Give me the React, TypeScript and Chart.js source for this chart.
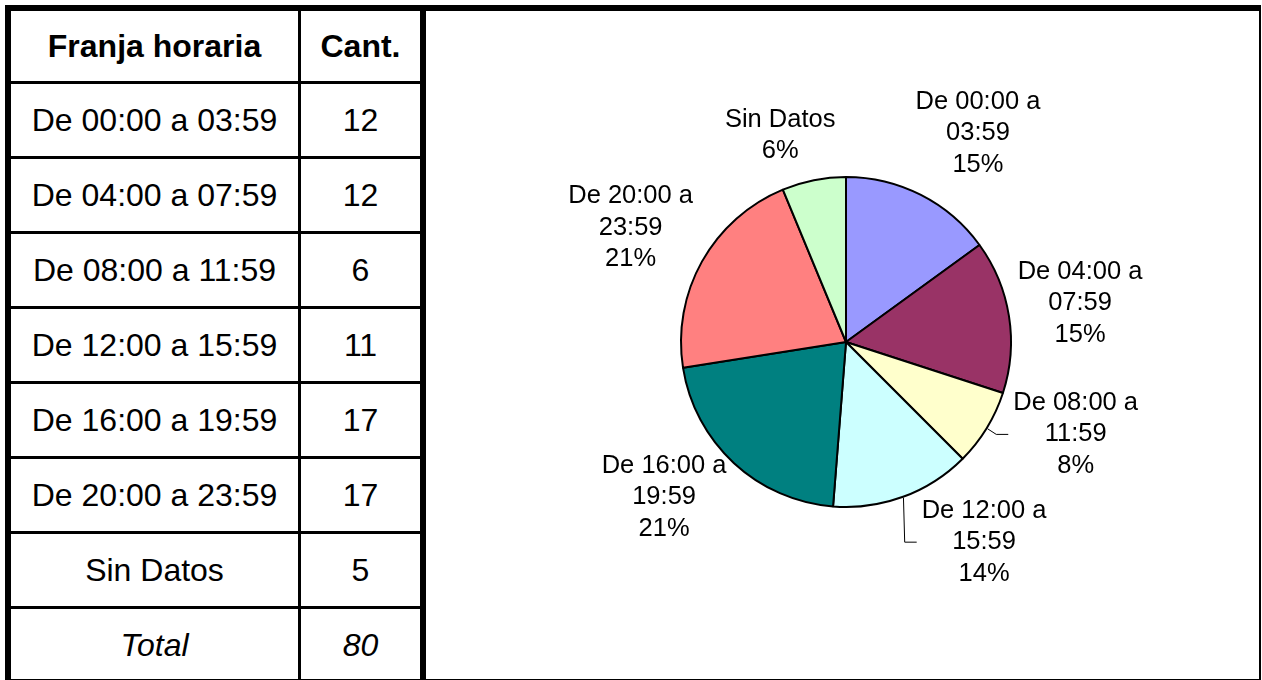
import React, { useEffect, useRef } from "react";
import { Chart, registerables } from "chart.js";

Chart.register(...registerables);

// ---------- data ----------
const HEADERS = ["Franja horaria", "Cant."];
const FRANJAS = [
  "De 00:00 a 03:59",
  "De 04:00 a 07:59",
  "De 08:00 a 11:59",
  "De 12:00 a 15:59",
  "De 16:00 a 19:59",
  "De 20:00 a 23:59",
  "Sin Datos",
];
const CANTIDADES = [12, 12, 6, 11, 17, 17, 5];
const TOTAL_LABEL = "Total";
const SLICE_LABELS = [
  ["De 00:00 a", "03:59"],
  ["De 04:00 a", "07:59"],
  ["De 08:00 a", "11:59"],
  ["De 12:00 a", "15:59"],
  ["De 16:00 a", "19:59"],
  ["De 20:00 a", "23:59"],
  ["Sin Datos"],
];
const SLICE_COLORS = ["#9999FF", "#993366", "#FFFFCC", "#CCFFFF", "#008080", "#FF8080", "#CCFFCC"];

// ---------- label layout (not data) ----------
const LABEL_GAP = 75;
const LABEL_NUDGE: [number, number][] = [
  [23, 5],
  [-3, -1],
  [25, -33],
  [55, -25],
  [-19, -21],
  [-6, 3],
  [-19, 29],
];
const HAS_LEADER = [false, false, true, true, false, false, false];
const LABEL_FONT = '25.5px "Liberation Sans", Arial, sans-serif';
const LABEL_LH = 31.6;

const FONT = '"Liberation Sans", Arial, sans-serif';

const outLabels = {
  id: "outLabels",
  afterDatasetsDraw(chart: any) {
    const ctx = chart.ctx;
    const meta = chart.getDatasetMeta(0);
    const data = chart.data.datasets[0].data as number[];
    const sum = data.reduce((a, b) => a + b, 0);
    ctx.save();
    ctx.font = LABEL_FONT;
    ctx.fillStyle = "#000";
    ctx.textAlign = "center";
    ctx.textBaseline = "middle";
    meta.data.forEach((arc: any, i: number) => {
      const p = arc.getProps(["x", "y", "startAngle", "endAngle", "outerRadius"], true);
      const mid = (p.startAngle + p.endAngle) / 2;
      const dist = p.outerRadius + LABEL_GAP;
      const pct = Math.round((data[i] / sum) * 100) + "%";
      const lines = [...SLICE_LABELS[i], pct];
      const cx = p.x + Math.cos(mid) * dist + LABEL_NUDGE[i][0];
      const cy = p.y + Math.sin(mid) * dist + LABEL_NUDGE[i][1];
      const top = cy - ((lines.length - 1) * LABEL_LH) / 2;
      lines.forEach((t, k) => ctx.fillText(t, cx, top + k * LABEL_LH));
      if (HAS_LEADER[i]) {
        const maxW = Math.max(...lines.map((t) => ctx.measureText(t).width));
        const endX = cx - maxW / 2 - 5;
        const endY = cy;
        const ex = p.x + Math.cos(mid) * (p.outerRadius + 1);
        const ey = p.y + Math.sin(mid) * (p.outerRadius + 1);
        const elbowX = Math.max(ex, endX - 12);
        ctx.beginPath();
        ctx.strokeStyle = "#000";
        ctx.lineWidth = 1;
        ctx.moveTo(ex, ey);
        ctx.lineTo(elbowX, endY);
        ctx.lineTo(endX, endY);
        ctx.stroke();
      }
    });
    ctx.restore();
  },
};

function PieChart() {
  const ref = useRef<HTMLCanvasElement>(null);
  useEffect(() => {
    if (!ref.current) return;
    const chart = new Chart(ref.current, {
      type: "pie",
      data: {
        labels: FRANJAS,
        datasets: [
          {
            data: CANTIDADES,
            backgroundColor: SLICE_COLORS,
            borderColor: "#000",
            borderWidth: 2,
            hoverBorderWidth: 2,
            offset: 0,
            hoverOffset: 0,
          },
        ],
      },
      options: {
        responsive: false,
        animation: false,
        events: [],
        layout: { padding: { top: 165, bottom: 171, left: 7, right: 0 } },
        plugins: { legend: { display: false }, tooltip: { enabled: false } },
      },
      plugins: [outLabels],
    });
    return () => chart.destroy();
  }, []);
  return (
    <canvas
      ref={ref}
      width={833}
      height={668}
      style={{ position: "absolute", left: 426, top: 11, width: 833, height: 668, display: "block" }}
    />
  );
}

const black = (left: number, top: number, width: number, height: number, key?: string) => (
  <div key={key} style={{ position: "absolute", left, top, width, height, background: "#000" }} />
);

export default function App() {
  const total = CANTIDADES.reduce((a, b) => a + b, 0);
  const rows = [
    { a: HEADERS[0], b: HEADERS[1], weight: 700, italic: false },
    ...FRANJAS.map((f, i) => ({ a: f, b: String(CANTIDADES[i]), weight: 400, italic: false })),
    { a: TOTAL_LABEL, b: String(total), weight: 400, italic: true },
  ];
  const cell = (left: number, width: number, top: number, height: number, text: string, weight: number, italic: boolean, key: string) => (
    <div
      key={key}
      style={{
        position: "absolute",
        left,
        top,
        width,
        height,
        display: "flex",
        alignItems: "center",
        justifyContent: "center",
        fontFamily: FONT,
        fontSize: 32,
        fontWeight: weight,
        fontStyle: italic ? "italic" : "normal",
        color: "#000",
        whiteSpace: "nowrap",
      }}
    >
      {text}
    </div>
  );
  return (
    <div
      style={{
        position: "absolute",
        left: 0,
        top: 0,
        width: 1262,
        height: 680,
        overflow: "hidden",
        background: "#fff",
      }}
    >
      {rows.map((r, i) => {
        const top = i === 0 ? 11 : 84 + (i - 1) * 75;
        const h = i === 0 ? 70 : 72;
        return (
          <React.Fragment key={"r" + i}>
            {cell(11, 287, top, h, r.a, r.weight, r.italic, "a" + i)}
            {cell(301, 119, top, h, r.b, r.weight, r.italic, "b" + i)}
          </React.Fragment>
        );
      })}
      {rows.slice(1).map((_, j) => black(11, 81 + j * 75, 409, 3, "sep" + j))}
      {black(298, 11, 3, 680, "colsep")}
      <PieChart />
      {black(5, 5, 1256, 6, "top")}
      {black(5, 5, 6, 680, "left")}
      {black(1259, 5, 2, 680, "right")}
      {black(5, 679, 1256, 3, "bottom")}
      {black(420, 5, 6, 680, "divider")}
    </div>
  );
}
